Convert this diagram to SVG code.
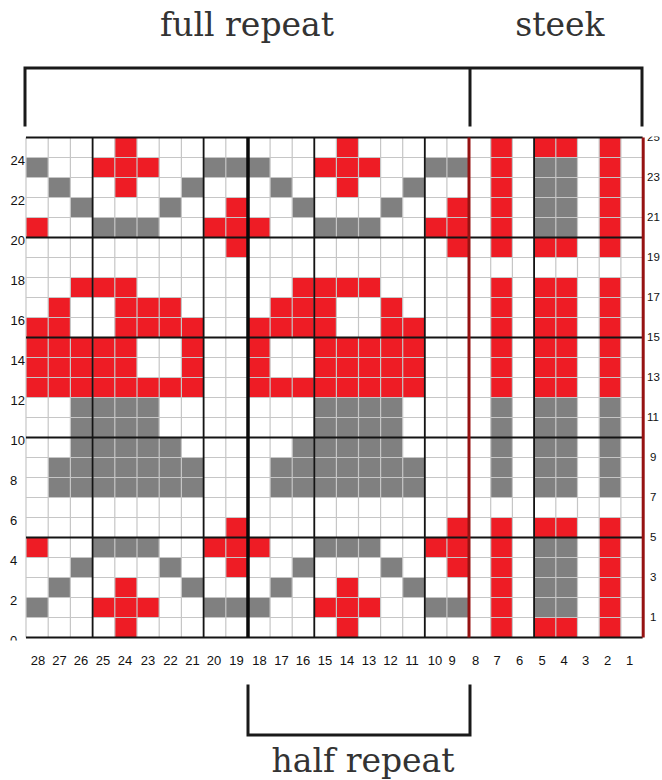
<svg xmlns="http://www.w3.org/2000/svg" width="662" height="780" viewBox="0 0 662 780">
<style>
.r{fill:#ee1c25}
.g{fill:#808080}
.grid{stroke:#c6c6c6;stroke-width:1.2;fill:none}
.thk{stroke:#141414;stroke-width:1.8;fill:none}
.xthk{stroke:#0a0a0a;stroke-width:3.5;fill:none}
.dr{stroke:#961212;stroke-width:3;fill:none}
.br{stroke:#1a1a1a;stroke-width:3;fill:none;stroke-linecap:square}
.t{font-family:"DejaVu Serif","Liberation Serif",serif;font-size:33px;fill:#333;text-anchor:middle}
.n{font-family:"Liberation Sans",Arial,sans-serif;font-size:13px;fill:#111}
.rn{font-size:11.5px}
.bn{text-anchor:middle}
.le{text-anchor:end}
.lm{text-anchor:middle}
</style>
<defs>
<clipPath id="lblclip"><rect x="0" y="136.5" width="662" height="504"/></clipPath>
</defs>
<rect width="662" height="780" fill="#fff"/>

<g id="titles">
<text class="t" x="247" y="36">full repeat</text>
<text class="t" x="560" y="36">steek</text>
<text class="t" x="363" y="772">half repeat</text>
</g>

<g id="brackets">
<path class="br" d="M25 125 V68 H642 V125 M470 68 V125"/>
<path class="br" d="M248 686 V735 H470 V686"/>
</g>

<g id="cells-main">
<rect class="r" x="114.8" y="137.5" width="22.2" height="20"/>
<rect class="r" x="336.4" y="137.5" width="22.1" height="20"/>
<rect class="g" x="26" y="157.5" width="22.2" height="20"/>
<rect class="r" x="92.6" y="157.5" width="66.6" height="20"/>
<rect class="g" x="203.6" y="157.5" width="66.5" height="20"/>
<rect class="r" x="314.3" y="157.5" width="66.3" height="20"/>
<rect class="g" x="424.8" y="157.5" width="44.2" height="20"/>
<rect class="g" x="48.2" y="177.5" width="22.2" height="20"/>
<rect class="r" x="114.8" y="177.5" width="22.2" height="20"/>
<rect class="g" x="181.4" y="177.5" width="22.2" height="20"/>
<rect class="g" x="270.1" y="177.5" width="22.1" height="20"/>
<rect class="r" x="336.4" y="177.5" width="22.1" height="20"/>
<rect class="g" x="402.7" y="177.5" width="22.1" height="20"/>
<rect class="g" x="70.4" y="197.5" width="22.2" height="20"/>
<rect class="g" x="159.2" y="197.5" width="22.2" height="20"/>
<rect class="r" x="225.8" y="197.5" width="22.2" height="20"/>
<rect class="g" x="292.2" y="197.5" width="22.1" height="20"/>
<rect class="g" x="380.6" y="197.5" width="22.1" height="20"/>
<rect class="r" x="446.9" y="197.5" width="22.1" height="20"/>
<rect class="r" x="26" y="217.5" width="22.2" height="20"/>
<rect class="g" x="92.6" y="217.5" width="66.6" height="20"/>
<rect class="r" x="203.6" y="217.5" width="66.5" height="20"/>
<rect class="g" x="314.3" y="217.5" width="66.3" height="20"/>
<rect class="r" x="424.8" y="217.5" width="44.2" height="20"/>
<rect class="r" x="225.8" y="237.5" width="22.2" height="20"/>
<rect class="r" x="446.9" y="237.5" width="22.1" height="20"/>
<rect class="r" x="70.4" y="277.5" width="66.6" height="20"/>
<rect class="r" x="292.2" y="277.5" width="88.4" height="20"/>
<rect class="r" x="48.2" y="297.5" width="22.2" height="20"/>
<rect class="r" x="114.8" y="297.5" width="66.6" height="20"/>
<rect class="r" x="270.1" y="297.5" width="66.3" height="20"/>
<rect class="r" x="380.6" y="297.5" width="22.1" height="20"/>
<rect class="r" x="26" y="317.5" width="44.4" height="20"/>
<rect class="r" x="114.8" y="317.5" width="88.8" height="20"/>
<rect class="r" x="248" y="317.5" width="88.4" height="20"/>
<rect class="r" x="380.6" y="317.5" width="44.2" height="20"/>
<rect class="r" x="26" y="337.5" width="111" height="40"/>
<rect class="r" x="181.4" y="337.5" width="22.2" height="40"/>
<rect class="r" x="248" y="337.5" width="22.1" height="40"/>
<rect class="r" x="314.3" y="337.5" width="110.5" height="40"/>
<rect class="r" x="26" y="377.5" width="177.6" height="20"/>
<rect class="r" x="248" y="377.5" width="176.8" height="20"/>
<rect class="g" x="70.4" y="397.5" width="88.8" height="40"/>
<rect class="g" x="314.3" y="397.5" width="88.4" height="40"/>
<rect class="g" x="70.4" y="437.5" width="111" height="20"/>
<rect class="g" x="292.2" y="437.5" width="110.5" height="20"/>
<rect class="g" x="48.2" y="457.5" width="155.4" height="40"/>
<rect class="g" x="270.1" y="457.5" width="154.7" height="40"/>
<rect class="r" x="225.8" y="517.5" width="22.2" height="20"/>
<rect class="r" x="446.9" y="517.5" width="22.1" height="20"/>
<rect class="r" x="26" y="537.5" width="22.2" height="20"/>
<rect class="g" x="92.6" y="537.5" width="66.6" height="20"/>
<rect class="r" x="203.6" y="537.5" width="66.5" height="20"/>
<rect class="g" x="314.3" y="537.5" width="66.3" height="20"/>
<rect class="r" x="424.8" y="537.5" width="44.2" height="20"/>
<rect class="g" x="70.4" y="557.5" width="22.2" height="20"/>
<rect class="g" x="159.2" y="557.5" width="22.2" height="20"/>
<rect class="r" x="225.8" y="557.5" width="22.2" height="20"/>
<rect class="g" x="292.2" y="557.5" width="22.1" height="20"/>
<rect class="g" x="380.6" y="557.5" width="22.1" height="20"/>
<rect class="r" x="446.9" y="557.5" width="22.1" height="20"/>
<rect class="g" x="48.2" y="577.5" width="22.2" height="20"/>
<rect class="r" x="114.8" y="577.5" width="22.2" height="20"/>
<rect class="g" x="181.4" y="577.5" width="22.2" height="20"/>
<rect class="g" x="270.1" y="577.5" width="22.1" height="20"/>
<rect class="r" x="336.4" y="577.5" width="22.1" height="20"/>
<rect class="g" x="402.7" y="577.5" width="22.1" height="20"/>
<rect class="g" x="26" y="597.5" width="22.2" height="20"/>
<rect class="r" x="92.6" y="597.5" width="66.6" height="20"/>
<rect class="g" x="203.6" y="597.5" width="66.5" height="20"/>
<rect class="r" x="314.3" y="597.5" width="66.3" height="20"/>
<rect class="g" x="424.8" y="597.5" width="44.2" height="20"/>
<rect class="r" x="114.8" y="617.5" width="22.2" height="20"/>
<rect class="r" x="336.4" y="617.5" width="22.1" height="20"/>
</g>

<g id="cells-steek">
<rect class="r" x="490.7" y="137.5" width="21.7" height="120"/>
<rect class="r" x="490.7" y="277.5" width="21.7" height="120"/>
<rect class="g" x="490.7" y="397.5" width="21.7" height="100"/>
<rect class="r" x="490.7" y="517.5" width="21.7" height="120"/>
<rect class="r" x="599.2" y="137.5" width="21.7" height="120"/>
<rect class="r" x="599.2" y="277.5" width="21.7" height="120"/>
<rect class="g" x="599.2" y="397.5" width="21.7" height="100"/>
<rect class="r" x="599.2" y="517.5" width="21.7" height="120"/>
<rect class="r" x="534.1" y="137.5" width="43.4" height="20"/>
<rect class="g" x="534.1" y="157.5" width="43.4" height="80"/>
<rect class="r" x="534.1" y="237.5" width="43.4" height="20"/>
<rect class="r" x="534.1" y="277.5" width="43.4" height="120"/>
<rect class="g" x="534.1" y="397.5" width="43.4" height="100"/>
<rect class="r" x="534.1" y="517.5" width="43.4" height="20"/>
<rect class="g" x="534.1" y="537.5" width="43.4" height="80"/>
<rect class="r" x="534.1" y="617.5" width="43.4" height="20"/>
</g>

<g id="gridlines">
<path class="grid" d="M26 137.5V637.5M48.2 137.5V637.5M70.4 137.5V637.5M92.6 137.5V637.5M114.8 137.5V637.5M137 137.5V637.5M159.2 137.5V637.5M181.4 137.5V637.5M203.6 137.5V637.5M225.8 137.5V637.5M248 137.5V637.5M270.1 137.5V637.5M292.2 137.5V637.5M314.3 137.5V637.5M336.4 137.5V637.5M358.5 137.5V637.5M380.6 137.5V637.5M402.7 137.5V637.5M424.8 137.5V637.5M446.9 137.5V637.5M469 137.5V637.5M490.7 137.5V637.5M512.4 137.5V637.5M534.1 137.5V637.5M555.8 137.5V637.5M577.5 137.5V637.5M599.2 137.5V637.5M620.9 137.5V637.5M642.6 137.5V637.5"/>
<path class="grid" d="M26 157.5H642.6M26 177.5H642.6M26 197.5H642.6M26 217.5H642.6M26 257.5H642.6M26 277.5H642.6M26 297.5H642.6M26 317.5H642.6M26 357.5H642.6M26 377.5H642.6M26 397.5H642.6M26 417.5H642.6M26 457.5H642.6M26 477.5H642.6M26 497.5H642.6M26 517.5H642.6M26 557.5H642.6M26 577.5H642.6M26 597.5H642.6M26 617.5H642.6"/>
<path class="thk" d="M26 137.5H642.6M26 237.5H642.6M26 337.5H642.6M26 437.5H642.6M26 537.5H642.6M26 637.5H642.6"/>
<path class="thk" d="M92.6 137.5V637.5M203.6 137.5V637.5M314.3 137.5V637.5M424.8 137.5V637.5M534.1 137.5V637.5"/>
<path class="xthk" d="M248 137.5V637.5"/>
<path class="dr" d="M469 137.5V637.5M643.2 137.5V637.5"/>
</g>

<g id="row-labels" class="n" clip-path="url(#lblclip)">
<text class="le" x="25" y="164.7">24</text>
<text class="le" x="25" y="204.7">22</text>
<text class="le" x="25" y="244.7">20</text>
<text class="le" x="25" y="284.7">18</text>
<text class="le" x="25" y="324.7">16</text>
<text class="le" x="25" y="364.7">14</text>
<text class="le" x="25" y="404.7">12</text>
<text class="le" x="25" y="444.7">10</text>
<text class="lm" x="13.5" y="484.7">8</text>
<text class="lm" x="13.5" y="524.7">6</text>
<text class="lm" x="13.5" y="564.7">4</text>
<text class="lm" x="13.5" y="604.7">2</text>
<text class="lm" x="13.5" y="644.7">0</text>
<text class="rn" x="647" y="140.5">25</text>
<text class="rn" x="647" y="180.5">23</text>
<text class="rn" x="647" y="220.5">21</text>
<text class="rn" x="647" y="260.5">19</text>
<text class="rn" x="647" y="300.5">17</text>
<text class="rn" x="647" y="340.5">15</text>
<text class="rn" x="647" y="380.5">13</text>
<text class="rn" x="647" y="420.5">11</text>
<text class="rn" x="650" y="460.5">9</text>
<text class="rn" x="650" y="500.5">7</text>
<text class="rn" x="650" y="540.5">5</text>
<text class="rn" x="650" y="580.5">3</text>
<text class="rn" x="650" y="620.5">1</text>
</g>

<g id="column-labels" class="n bn" font-size="12.5">
<text x="38" y="664.5">28</text>
<text x="59.5" y="664.5">27</text>
<text x="81" y="664.5">26</text>
<text x="103" y="664.5">25</text>
<text x="125" y="664.5">24</text>
<text x="148" y="664.5">23</text>
<text x="170.5" y="664.5">22</text>
<text x="192.5" y="664.5">21</text>
<text x="214" y="664.5">20</text>
<text x="236.5" y="664.5">19</text>
<text x="259.5" y="664.5">18</text>
<text x="281.5" y="664.5">17</text>
<text x="303" y="664.5">16</text>
<text x="325" y="664.5">15</text>
<text x="347" y="664.5">14</text>
<text x="369" y="664.5">13</text>
<text x="390.5" y="664.5">12</text>
<text x="412" y="664.5">11</text>
<text x="435" y="664.5">10</text>
<text x="452" y="664.5">9</text>
<text x="475.5" y="664.5">8</text>
<text x="497" y="664.5">7</text>
<text x="519.5" y="664.5">6</text>
<text x="542" y="664.5">5</text>
<text x="564" y="664.5">4</text>
<text x="585.5" y="664.5">3</text>
<text x="607.5" y="664.5">2</text>
<text x="629.5" y="664.5">1</text>
</g>
</svg>
